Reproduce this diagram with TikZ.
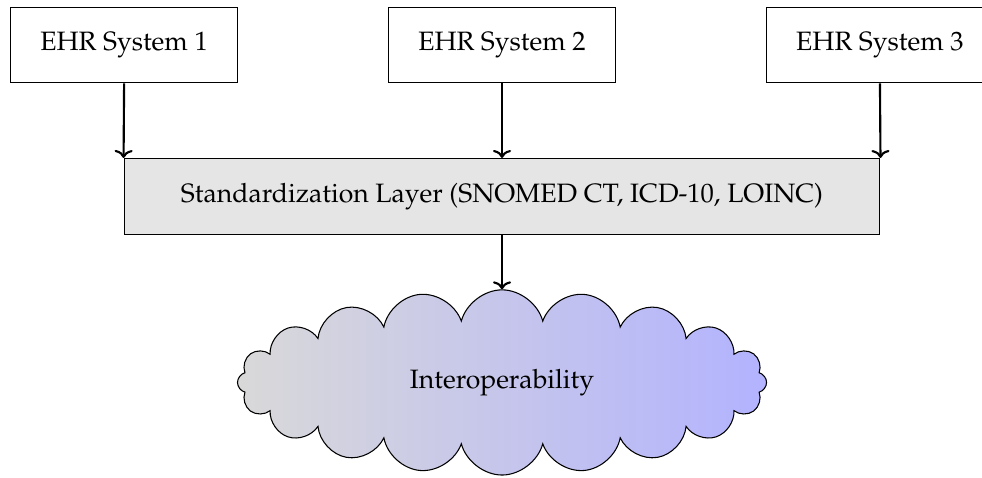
\documentclass[tikz,border=0pt]{standalone}
\usepackage[T1]{fontenc}
\usepackage{mathpazo}
\usetikzlibrary{shapes.symbols,arrows.meta}
\begin{document}
\begin{tikzpicture}[
  sysbox/.style={draw, minimum width=3cm, minimum height=1cm, inner sep=2pt},
  layerbox/.style={draw, fill=gray!20, minimum width=10cm, minimum height=1cm},
  cloudnode/.style={draw, cloud, cloud puffs=20, aspect=2.8, left color=gray!30, right color=blue!30, minimum width=7cm, minimum height=2.45cm},
  flow/.style={-{Computer Modern Rightarrow[length=3pt,width=6.8pt]}, thick}
]
\useasboundingbox (-1.642,-5.726) rectangle (11.35,0.597);
\node[sysbox] (s1) at (0,0) {EHR System 1};
\node[sysbox] (s2) at (5,0) {EHR System 2};
\node[sysbox] (s3) at (10,0) {EHR System 3};
\node[layerbox] (layer) at (5,-2) {Standardization Layer (SNOMED CT, ICD-10, LOINC)};
\node[cloudnode] (cl) at (5,-4.463) {Interoperability};
\draw[flow] (s1.south) -- (layer.north west);
\draw[flow] (s2.south) -- (layer.north);
\draw[flow] (s3.south) -- (layer.north east);
\draw[flow] (layer.south) -- (cl.north);
\end{tikzpicture}
\end{document}
